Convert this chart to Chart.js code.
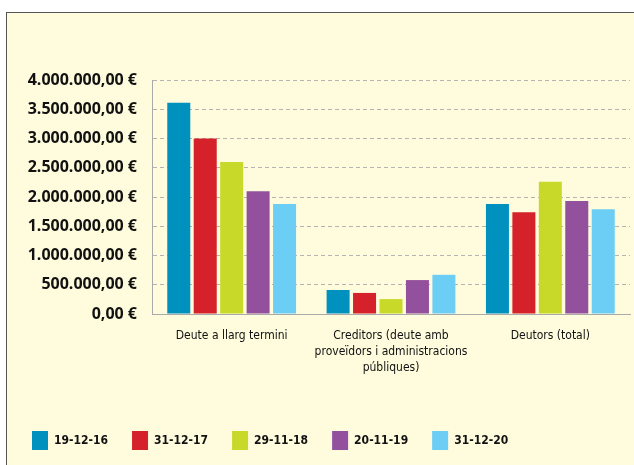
<!DOCTYPE html>
<html>
<head>
<meta charset="utf-8">
<script src="https://cdn.jsdelivr.net/npm/chart.js@4"></script>
<style>
    body { margin: 0; background: #fff; }
    #frame {
        position: absolute; left: 6px; top: 12px; width: 700px; height: 500px;
        border: 1px solid #555; background: #fffbdd;
    }
    #wrap { position: absolute; left: 0; top: 0; width: 634px; height: 465px; }
</style>
</head>
<body>
<div id="frame"></div>
<div id="wrap"><canvas id="deute"></canvas></div>
<script>
const categories = [
    'Deute a llarg termini',
    ['Creditors (deute amb', 'proveïdors i administracions', 'públiques)'],
    'Deutors (total)'
];
const dates = ['19-12-16', '31-12-17', '29-11-18', '20-11-19', '31-12-20'];
const colors = ['#0091bf', '#d52129', '#c9d92a', '#93519d', '#6dcef5'];

const values1912_16 = [3610000, 410000, 1880000];
const values3112_17 = [3000000, 360000, 1740000];
const values2911_18 = [2600000, 255000, 2260000];
const values2011_19 = [2100000, 580000, 1930000];
const values3112_20 = [1880000, 670000, 1790000];
const seriesValues = [values1912_16, values3112_17, values2911_18, values2011_19, values3112_20];

const yTicks = [0, 500000, 1000000, 1500000, 2000000, 2500000, 3000000, 3500000, 4000000];

const narrow = "'DejaVu Sans Condensed', Lato, sans-serif";

function euro(v) {
    const whole = Math.round(v).toString().replace(/\B(?=(\d{3})+(?!\d))/g, '.');
    return whole + ',00 €';
}

const ctx = document.getElementById('deute').getContext('2d');
new Chart(ctx, {
    type: 'bar',
    data: {
        labels: categories,
        datasets: dates.map((d, i) => ({
            label: d,
            data: seriesValues[i],
            backgroundColor: colors[i],
            borderWidth: 0,
            categoryPercentage: 0.83,
            barPercentage: 0.87
        }))
    },
    options: {
        responsive: true,
        maintainAspectRatio: false,
        animation: false,
        layout: { padding: { top: 80, right: 4, bottom: 5, left: 8 } },
        plugins: {
            tooltip: { enabled: false },
            legend: {
                position: 'bottom',
                align: 'start',
                labels: {
                    boxWidth: 16,
                    boxHeight: 19,
                    padding: 24,
                    color: '#111',
                    font: { family: narrow, size: 12, weight: 'bold' }
                }
            }
        },
        scales: {
            x: {
                grid: { display: false },
                border: { display: true, color: '#aaa', width: 1 },
                ticks: {
                    color: '#111',
                    padding: 6,
                    maxRotation: 0,
                    autoSkip: false,
                    font: { family: narrow, size: 12, lineHeight: 1.33 }
                },
                afterFit: s => { s.height = 93; }
            },
            y: {
                min: 0,
                max: 4000000,
                afterBuildTicks: s => { s.ticks = yTicks.map(v => ({ value: v })); },
                grid: { color: '#b3b3b3', lineWidth: 1, drawTicks: false },
                border: { display: true, color: '#aaa', width: 1, dash: [4, 3] },
                ticks: {
                    color: '#111',
                    padding: 15,
                    font: { family: "'Open Sans', sans-serif", size: 16, weight: 'bold' },
                    callback: v => euro(v)
                },
                afterFit: s => { s.width = 144; }
            }
        }
    }
});
</script>
</body>
</html>
